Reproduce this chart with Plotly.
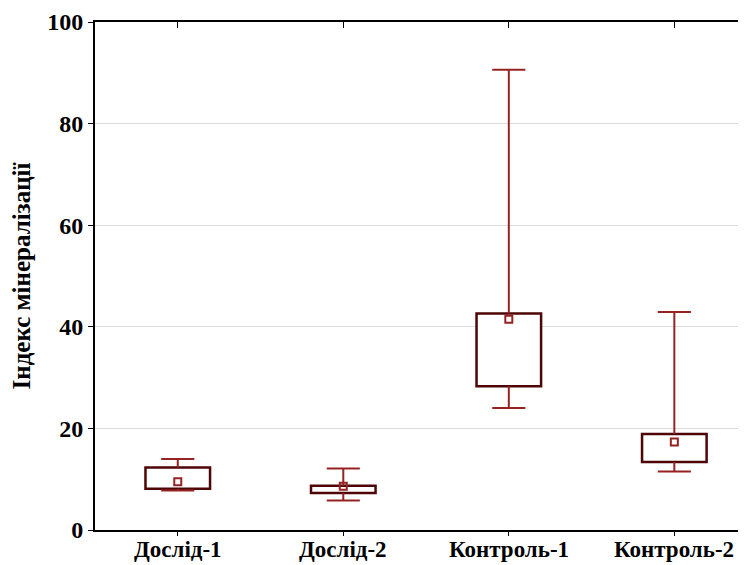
import plotly.graph_objects as go

categories = ["Дослід-1", "Дослід-2", "Контроль-1", "Контроль-2"]
q1 = [8.1, 7.3, 28.3, 13.4]
q3 = [12.3, 8.7, 42.6, 18.9]
whisker_low = [7.8, 5.8, 24.0, 11.5]
whisker_high = [14.0, 12.1, 90.6, 42.9]
center = [9.5, 8.6, 41.5, 17.3]

y_title = "Індекс мінералізації"
y_ticks = [0, 20, 40, 60, 80, 100]

WHISK = "#962323"
BOX = "#4d0505"
FONT = "Liberation Serif, Times New Roman, serif"
cap = 0.1
box_w = 0.39

xs = list(range(len(categories)))

# whiskers and caps
wx, wy = [], []
for i in xs:
    wx += [i, i, None, i - cap, i + cap, None, i, i, None, i - cap, i + cap, None]
    wy += [q3[i], whisker_high[i], None, whisker_high[i], whisker_high[i], None,
           q1[i], whisker_low[i], None, whisker_low[i], whisker_low[i], None]

fig = go.Figure()
fig.add_trace(go.Bar(
    x=xs, y=[q3[i] - q1[i] for i in xs], base=q1, width=box_w,
    marker=dict(color="white", line=dict(color=BOX, width=2.5)),
    hoverinfo="skip", showlegend=False))
fig.add_trace(go.Scatter(
    x=wx, y=wy, mode="lines", line=dict(color=WHISK, width=2),
    hoverinfo="skip", showlegend=False))
fig.add_trace(go.Scatter(
    x=xs, y=center, mode="markers",
    marker=dict(symbol="square-open", size=7, color=WHISK, line=dict(width=2)),
    showlegend=False))
# invisible trace for top axis
fig.add_trace(go.Scatter(x=xs, y=center, xaxis="x2", mode="markers",
                         marker=dict(opacity=0), hoverinfo="skip", showlegend=False))

# category labels as annotations for tight placement
for i in xs:
    fig.add_annotation(x=i, y=0, xref="x", yref="paper", yanchor="top",
                       yshift=-5, showarrow=False,
                       text="<b>%s</b>" % categories[i],
                       font=dict(family=FONT, size=23, color="black"))

xr = [-0.5, 3.433]
fig.update_layout(
    width=738, height=557,
    margin=dict(l=87, r=0, t=14, b=35),
    plot_bgcolor="white", paper_bgcolor="white",
    font=dict(family=FONT, color="black"),
    xaxis=dict(range=xr, tickmode="array", tickvals=xs, automargin=False,
               showticklabels=False,
               showline=True, linecolor="black", linewidth=2,
               ticks="outside", ticklen=4, tickwidth=1, tickcolor="black",
               showgrid=False, zeroline=False),
    xaxis2=dict(range=xr, overlaying="x", side="top", tickmode="array", tickvals=xs,
                showticklabels=False, showline=True, linecolor="black", linewidth=2,
                ticks="inside", ticklen=6, tickwidth=1, tickcolor="black",
                showgrid=False, zeroline=False, automargin=False),
    yaxis=dict(range=[0, 100], tickmode="array", tickvals=y_ticks, automargin=False,
               ticktext=["<b>%d</b>" % v for v in y_ticks],
               showline=True, linecolor="black", linewidth=2,
               ticks="outside", ticklen=5, tickwidth=1, tickcolor="black",
               showgrid=True, gridcolor="#dcdcdc", gridwidth=1, zeroline=False,
               tickfont=dict(family=FONT, size=24, color="black"),
               title=dict(text="<b>%s</b>" % y_title, standoff=10,
                          font=dict(family=FONT, size=25, color="black"))),
)

fig.write_html("out.html")
